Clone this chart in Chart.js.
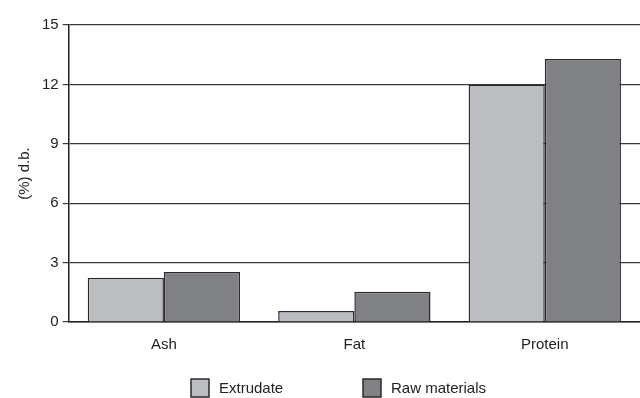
<!DOCTYPE html>
<html lang="en">
<head>
<meta charset="UTF-8">
<title>Composition</title>
<script src="https://cdn.jsdelivr.net/npm/chart.js"></script>
<style>
  html, body { margin: 0; padding: 0; background: #fff; }
  .graph { width: 640px; height: 398px; }
</style>
</head>
<body>
<div class="graph">
  <canvas id="myChartCanvas" width="640" height="398"></canvas>
</div>

<script>
// data
const categorias = ['Ash', 'Fat', 'Protein'];
const extrudate = [2.24, 0.55, 12.0];
const rawMaterials = [2.52, 1.53, 13.28];
const yTicks = [0, 3, 6, 9, 12, 15];

const fonte = "'Liberation Sans Narrow', 'Arial Narrow', 'Liberation Sans', sans-serif";

// legend drawn by hand so the spacing matches the original
const legendaPlugin = {
  id: 'legendaManual',
  afterDraw(chart) {
    const ctx = chart.ctx;
    const xs = [191, 363];
    const y = 379;
    ctx.save();
    ctx.font = '15px ' + fonte;
    ctx.textBaseline = 'middle';
    chart.data.datasets.forEach(function (ds, i) {
      ctx.fillStyle = ds.backgroundColor;
      ctx.fillRect(xs[i], y, 18, 18);
      ctx.strokeStyle = ds.borderColor;
      ctx.lineWidth = 1.5;
      ctx.strokeRect(xs[i], y, 18, 18);
      ctx.fillStyle = '#222';
      ctx.fillText(ds.label, xs[i] + 28, y + 10);
    });
    ctx.restore();
  }
};

const dados = {
  labels: categorias,
  datasets: [
    {
      label: 'Extrudate',
      data: extrudate,
      backgroundColor: '#bcbdc1',
      borderColor: '#2a2a2a',
      borderWidth: 1.5
    },
    {
      label: 'Raw materials',
      data: rawMaterials,
      backgroundColor: '#808185',
      borderColor: '#2a2a2a',
      borderWidth: 1.5
    }
  ]
};

const config = {
  type: 'bar',
  data: dados,
  plugins: [legendaPlugin],
  options: {
    responsive: false,
    animation: false,
    layout: { padding: { top: 25, right: 0, bottom: 38, left: 16 } },
    datasets: {
      bar: { categoryPercentage: 0.8, barPercentage: 1.0 }
    },
    plugins: {
      legend: { display: false },
      tooltip: { enabled: false }
    },
    scales: {
      x: {
        grid: { display: false },
        border: { display: true, color: '#222', width: 1.5 },
        ticks: { color: '#222', font: { family: fonte, size: 15 }, padding: 6 }
      },
      y: {
        min: 0,
        max: 15,
        afterBuildTicks(axis) {
          axis.ticks = yTicks.map(v => ({ value: v }));
        },
        grid: { color: '#3a3a3a', lineWidth: 1.2, tickLength: 6 },
        border: { display: true, color: '#222', width: 1.5 },
        ticks: { color: '#222', font: { family: fonte, size: 15 }, padding: 4 },
        title: {
          display: true,
          text: '(%) d.b.',
          color: '#222',
          font: { family: fonte, size: 15 },
          padding: { top: 0, bottom: 4 }
        }
      }
    }
  }
};

new Chart(document.getElementById('myChartCanvas'), config);
</script>
</body>
</html>
